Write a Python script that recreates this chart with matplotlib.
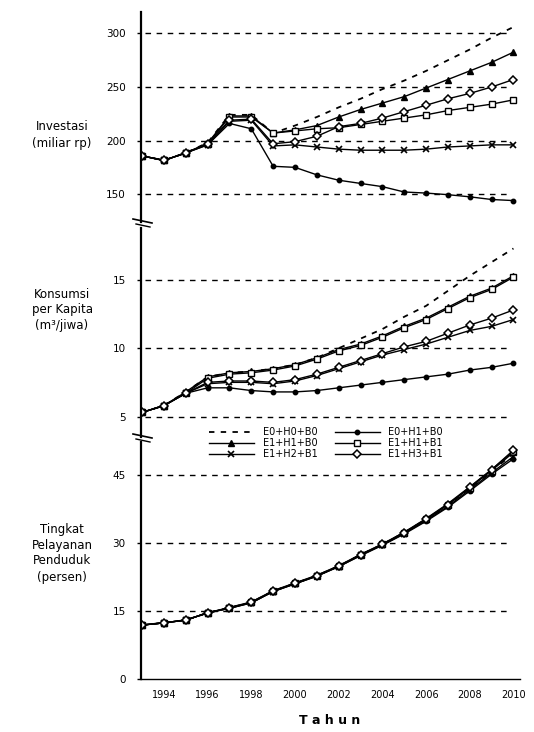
import numpy as np
import matplotlib
matplotlib.use("Agg")
import matplotlib.pyplot as plt
from matplotlib.lines import Line2D

# tahun
tahun = list(range(1993, 2011))
labels = ["E0+H0+B0", "E0+H1+B0", "E1+H1+B0", "E1+H1+B1", "E1+H2+B1", "E1+H3+B1"]

# Investasi (miliar rp)
inv_e0h0b0 = [185.7, 181.5, 188.5, 198, 224, 224, 207, 214, 222, 231, 239, 248, 256, 265, 275, 285, 296, 306]
inv_e0h1b0 = [185.7, 181.5, 188.5, 196, 216, 211, 176, 175, 168, 163, 160, 157, 152, 151, 149.5, 147.5, 145, 144]
inv_e1h1b0 = [185.7, 181.5, 188.5, 197.5, 223, 223, 207, 210, 214, 222, 229, 235, 241, 249, 257, 265, 273, 282.5]
inv_e1h1b1 = [185.7, 181.5, 188.5, 197, 222, 222, 207, 209, 211, 212, 215, 218, 221, 224, 228, 231, 234, 238]
inv_e1h2b1 = [185.7, 181.5, 188.5, 196, 218, 219, 195, 196, 194, 192, 191, 191, 191, 192, 194, 195, 196, 196]
inv_e1h3b1 = [185.7, 181.5, 188.5, 197, 219, 220, 197, 199, 204, 213, 216, 221, 227, 233, 239, 244, 250, 257]

# Konsumsi per kapita
kon_e0h0b0 = [5.3, 5.8, 6.8, 7.9, 8.2, 8.3, 8.5, 8.8, 9.3, 10.0, 10.7, 11.4, 12.3, 13.1, 14.2, 15.3, 16.3, 17.3]
kon_e0h1b0 = [5.3, 5.8, 6.7, 7.1, 7.1, 6.9, 6.8, 6.8, 6.9, 7.1, 7.3, 7.5, 7.7, 7.9, 8.1, 8.4, 8.6, 8.9]
kon_e1h1b0 = [5.3, 5.8, 6.8, 7.9, 8.2, 8.3, 8.5, 8.8, 9.3, 9.9, 10.3, 10.9, 11.6, 12.2, 13.0, 13.8, 14.4, 15.3]
kon_e1h1b1 = [5.3, 5.8, 6.7, 7.8, 8.1, 8.2, 8.4, 8.7, 9.2, 9.8, 10.2, 10.8, 11.5, 12.1, 12.9, 13.7, 14.3, 15.2]
kon_e1h2b1 = [5.3, 5.8, 6.7, 7.4, 7.5, 7.5, 7.4, 7.6, 8.0, 8.5, 9.0, 9.5, 9.9, 10.3, 10.8, 11.3, 11.6, 12.1]
kon_e1h3b1 = [5.3, 5.8, 6.7, 7.5, 7.6, 7.6, 7.5, 7.7, 8.1, 8.6, 9.1, 9.6, 10.1, 10.5, 11.1, 11.7, 12.2, 12.8]

# Tingkat pelayanan penduduk (persen)
pel_e0h0b0 = [11.9, 12.4, 13.0, 14.6, 15.7, 16.9, 19.4, 21.1, 22.8, 24.9, 27.4, 29.7, 32.3, 35.2, 38.4, 42.1, 45.8, 49.8]
pel_e0h1b0 = [11.9, 12.4, 13.0, 14.6, 15.6, 16.8, 19.3, 21.0, 22.7, 24.8, 27.2, 29.5, 32.0, 34.8, 37.9, 41.5, 45.2, 48.6]
pel_e1h1b0 = [11.9, 12.4, 13.0, 14.6, 15.8, 17.0, 19.5, 21.2, 22.9, 25.0, 27.5, 29.8, 32.4, 35.4, 38.7, 42.4, 46.2, 50.3]
pel_e1h1b1 = [11.9, 12.4, 13.0, 14.6, 15.7, 16.9, 19.4, 21.1, 22.8, 24.9, 27.4, 29.7, 32.3, 35.3, 38.5, 42.2, 46.0, 50.0]
pel_e1h2b1 = [11.9, 12.4, 13.0, 14.6, 15.6, 16.8, 19.3, 21.0, 22.7, 24.8, 27.3, 29.6, 32.1, 35.0, 38.1, 41.8, 45.5, 49.1]
pel_e1h3b1 = [11.9, 12.4, 13.0, 14.6, 15.7, 16.9, 19.4, 21.1, 22.8, 24.9, 27.4, 29.7, 32.3, 35.2, 38.5, 42.3, 46.2, 50.5]

investasi = [inv_e0h0b0, inv_e0h1b0, inv_e1h1b0, inv_e1h1b1, inv_e1h2b1, inv_e1h3b1]
konsumsi = [kon_e0h0b0, kon_e0h1b0, kon_e1h1b0, kon_e1h1b1, kon_e1h2b1, kon_e1h3b1]
pelayanan = [pel_e0h0b0, pel_e0h1b0, pel_e1h1b0, pel_e1h1b1, pel_e1h2b1, pel_e1h3b1]

# gaya garis per skenario
gaya = [
    dict(linestyle=(0, (3, 3.5)), linewidth=1.3, marker=None),
    dict(linestyle="-", linewidth=1.0, marker="o", markersize=3.2),
    dict(linestyle="-", linewidth=1.0, marker="^", markersize=4.5),
    dict(linestyle="-", linewidth=1.0, marker="s", markersize=3.8, markerfacecolor="white"),
    dict(linestyle="-", linewidth=1.0, marker="x", markersize=4, markeredgewidth=1.2),
    dict(linestyle="-", linewidth=1.0, marker="D", markersize=4, markerfacecolor="white", markeredgewidth=1.1),
]

W, H = 534, 732
fig = plt.figure(figsize=(W / 100, H / 100), dpi=100)
plt.rcParams["font.family"] = ["DejaVu Sans"]

left = 141 / W
width = (520 - 141) / W

def kotak(y_atas, y_bawah):
    return [left, 1 - y_bawah / H, width, (y_bawah - y_atas) / H]

ax1 = fig.add_axes(kotak(12, 222))
ax2 = fig.add_axes(kotak(228, 437))
ax3 = fig.add_axes(kotak(442, 679))

panel = [
    (ax1, investasi, (124, 320), [150, 200, 250, 300]),
    (ax2, konsumsi, (3.5, 18.8), [5, 10, 15]),
    (ax3, pelayanan, (0, 52.3), [0, 15, 30, 45]),
]

for ax, data, ylim, yt in panel:
    for seri, g in zip(data, gaya):
        ax.plot(tahun, seri, color="black", **g)
    for v in yt:
        if v != 0:
            ax.axhline(v, xmin=0.01, xmax=0.97, color="black", linestyle=(0, (4, 4)), linewidth=1.0, zorder=0)
    ax.set_ylim(*ylim)
    ax.set_xlim(1992.95, 2010.3)
    ax.set_yticks(yt)
    ax.tick_params(axis="y", length=3, width=1, labelsize=7.5, pad=8)
    for s in ["top", "right"]:
        ax.spines[s].set_visible(False)
    ax.spines["left"].set_linewidth(1.6)

for ax in [ax1, ax2]:
    ax.spines["bottom"].set_visible(False)
    ax.set_xticks([])

ax3.set_xticks(range(1994, 2011, 2))
ax3.tick_params(axis="x", length=0, labelsize=7, pad=8)
ax3.spines["bottom"].set_linewidth(1.0)

# tanda patahan sumbu
for yb in [222, 437]:
    fig.add_artist(Line2D([133 / W, 152 / W], [1 - (yb - 3) / H, 1 - (yb + 1) / H], color="black", lw=1.2))
    fig.add_artist(Line2D([136 / W, 150 / W], [1 - (yb + 2) / H, 1 - (yb + 5) / H], color="black", lw=1.0))

# label sumbu y
fig.text(62 / W, 1 - 135 / H, "Investasi\n(miliar rp)", ha="center", va="center", fontsize=8.5, linespacing=1.3)
fig.text(62 / W, 1 - 310 / H, "Konsumsi\nper Kapita\n(m\u00b3/jiwa)", ha="center", va="center", fontsize=8.5, linespacing=1.3)
fig.text(62 / W, 1 - 553 / H, "Tingkat\nPelayanan\nPenduduk\n(persen)", ha="center", va="center", fontsize=8.5, linespacing=1.3)
fig.text(330 / W, 1 - 721 / H, "T a h u n", ha="center", va="center", fontsize=9, fontweight="bold")

# legenda
handles = [Line2D([], [], color="black", **g) for g in gaya]
urutan = [0, 2, 4, 1, 3, 5]
leg = fig.legend([handles[i] for i in urutan], [labels[i] for i in urutan],
                 ncol=2, loc="center", bbox_to_anchor=(326 / W, 1 - 443 / H),
                 fontsize=7, frameon=True, handlelength=4.6, columnspacing=1.8,
                 labelspacing=0.1, borderpad=0.6, handletextpad=0.9)
leg.get_frame().set_edgecolor("white")
leg.get_frame().set_facecolor("white")
leg.get_frame().set_alpha(1.0)

fig.savefig("out.png", dpi=100)
